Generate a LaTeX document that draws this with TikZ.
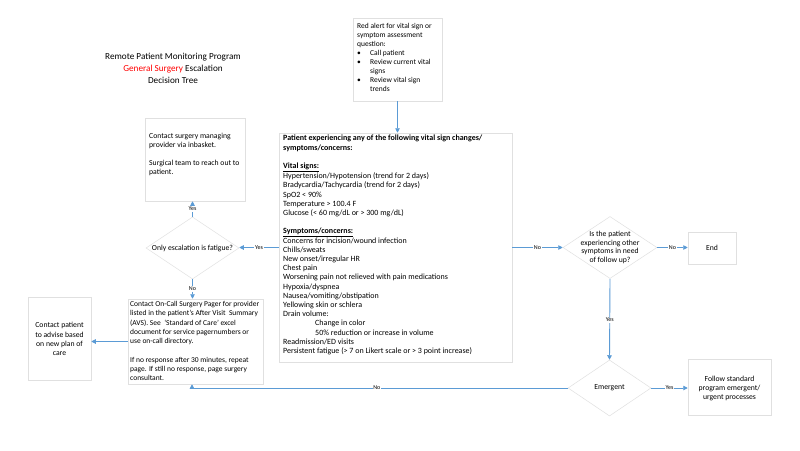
\documentclass[tikz,border=0pt]{standalone}
\usepackage{fontspec}
\setmainfont{Carlito}
\usetikzlibrary{arrows.meta,shapes.geometric,shadows}
\definecolor{arrowblue}{RGB}{91,155,213}
\definecolor{boxgray}{RGB}{224,224,224}
\definecolor{titlered}{RGB}{255,0,0}
\tikzset{
  box/.style={draw=boxgray, line width=0.5pt, fill=white, rectangle, inner sep=0pt,
    drop shadow={shadow xshift=0.3pt, shadow yshift=-1.2pt, opacity=0.3, fill=arrowblue!40}},
  dia/.style={draw=boxgray, line width=0.5pt, fill=white, diamond, inner sep=0pt},
  txt/.style={inner sep=0pt, align=left, font=\fontsize{7.7}{9.2}\selectfont},
  ctxt/.style={inner sep=0pt, align=center, font=\fontsize{7.7}{9.2}\selectfont},
  arr/.style={draw=arrowblue, line width=0.9pt, -{Triangle[width=4.5pt,length=4.5pt]}},
  lbl/.style={fill=white, inner sep=0.6pt, font=\fontsize{6}{6.5}\selectfont}
}
\begin{document}
\begin{tikzpicture}[x=1pt,y=-1pt]
\path[use as bounding box, fill=white] (0,0) rectangle (800,450);

% title
\node[ctxt, font=\fontsize{9.2}{12}\selectfont] (title) at (173,68)
  {Remote Patient Monitoring Program\\ \textcolor{titlered}{General Surgery} Escalation\\ Decision Tree};

% boxes
\node[box, minimum width=89pt, minimum height=83pt] (alert) at (397.5,59.5) {};
\node[box, minimum width=233pt, minimum height=229pt] (big) at (395.5,247.5) {};
\node[box, minimum width=100pt, minimum height=83pt] (lbox) at (195,159.5) {};
\node[box, minimum width=135pt, minimum height=85pt] (oncall) at (195.5,341.5) {};
\node[box, minimum width=63pt, minimum height=83pt] (contact) at (59.5,338.5) {};
\node[box, minimum width=48pt, minimum height=32pt] (end) at (712,248) {};
\node[box, minimum width=83pt, minimum height=56pt] (follow) at (729.5,387) {};

% diamonds
\node[dia, minimum width=93pt, minimum height=62pt] (fat) at (192.5,248) {};
\node[dia, minimum width=94pt, minimum height=62pt] (other) at (610,247.5) {};
\node[dia, minimum width=83pt, minimum height=56pt] (emg) at (609.5,388) {};

% texts
\node[txt, anchor=west, font=\fontsize{7.5}{8.9}\selectfont] (alerttxt) at (357,57.5)
  {Red alert for vital sign or\\ symptom assessment\\ question:\\
   \makebox[13pt][l]{\textbullet}Call patient\\
   \makebox[13pt][l]{\textbullet}Review current vital\\
   \hspace*{13pt}signs\\
   \makebox[13pt][l]{\textbullet}Review vital sign\\
   \hspace*{13pt}trends};

\node[txt, anchor=west, font=\fontsize{8.0}{9.2}\selectfont] (bigtxt) at (283,245)
  {\textbf{Patient experiencing any of the following vital sign changes/}\\
   \textbf{symptoms/concerns:}\\ ~\\
   \textbf{\underline{Vital signs:}}\\
   Hypertension/Hypotension (trend for 2 days)\\
   Bradycardia/Tachycardia (trend for 2 days)\\
   SpO2 < 90\%\\
   Temperature > 100.4 F\\
   Glucose (< 60 mg/dL or > 300 mg/dL)\\ ~\\
   \textbf{\underline{Symptoms/concerns:}}\\
   Concerns for incision/wound infection\\
   Chills/sweats\\
   New onset/irregular HR\\
   Chest pain\\
   Worsening pain not relieved with pain medications\\
   Hypoxia/dyspnea\\
   Nausea/vomiting/obstipation\\
   Yellowing skin or schlera\\
   Drain volume:\\
   \hspace*{32pt}Change in color\\
   \hspace*{32pt}50\% reduction or increase in volume\\
   Readmission/ED visits\\
   Persistent fatigue (> 7 on Likert scale or > 3 point increase)};

\node[txt, anchor=west] (lboxtxt) at (149,154.5)
  {Contact surgery managing\\ provider via inbasket.\\ ~\\ Surgical team to reach out to\\ patient.};

\node[txt, anchor=west, font=\fontsize{7.5}{9.25}\selectfont] (oncalltxt) at (130,341)
  {Contact On-Call Surgery Pager for provider\\
   listed in the patient’s After Visit\ \ Summary\\
   (AVS). See\ \ ‘Standard of Care’ excel\\
   document for service pagernumbers or\\
   use on-call directory.\\ ~\\
   If no response after 30 minutes, repeat\\
   page. If still no response, page surgery\\
   consultant.};

\node[ctxt] (contacttxt) at (59.5,339)
  {Contact patient\\ to advise based\\ on new plan of\\ care};

\node[ctxt] (endtxt) at (712,248) {End};
\node[ctxt] (followtxt) at (729.5,388.5)
  {Follow standard\\ program emergent/\\ urgent processes};

\node[ctxt] (fattxt) at (192.5,248) {Only escalation is fatigue?};
\node[ctxt, font=\fontsize{7.7}{8.5}\selectfont] (othertxt) at (610,247.5)
  {Is the patient\\ experiencing other\\ symptoms in need\\ of follow up?};
\node[ctxt] (emgtxt) at (609.5,388) {Emergent};

% connectors
\draw[arr] (alert.south) -- (alert.south |- big.north);
\draw[arr] (big.west) -- node[lbl]{Yes} (big.west -| fat.east);
\draw[arr] (fat.north) -- node[lbl]{Yes} (fat.north |- lbox.south);
\draw[arr] (fat.south) -- node[lbl]{No} (fat.south |- oncall.north);
\draw[arr] (oncall.west) -- (oncall.west -| contact.east);
\draw[arr] (big.east) -- node[lbl]{No} (other.west);
\draw[arr] (other.east) -- node[lbl]{No} (other.east -| end.west);
\draw[arr] (other.south) -- node[lbl, pos=0.51]{Yes} (emg.north);
\draw[arr] (emg.east) -- node[lbl]{Yes} (emg.east -| follow.west);
\draw[arr] (emg.west) -| node[lbl, pos=0.254]{No} ([xshift=-3.5pt]oncall.south);
\end{tikzpicture}
\end{document}
